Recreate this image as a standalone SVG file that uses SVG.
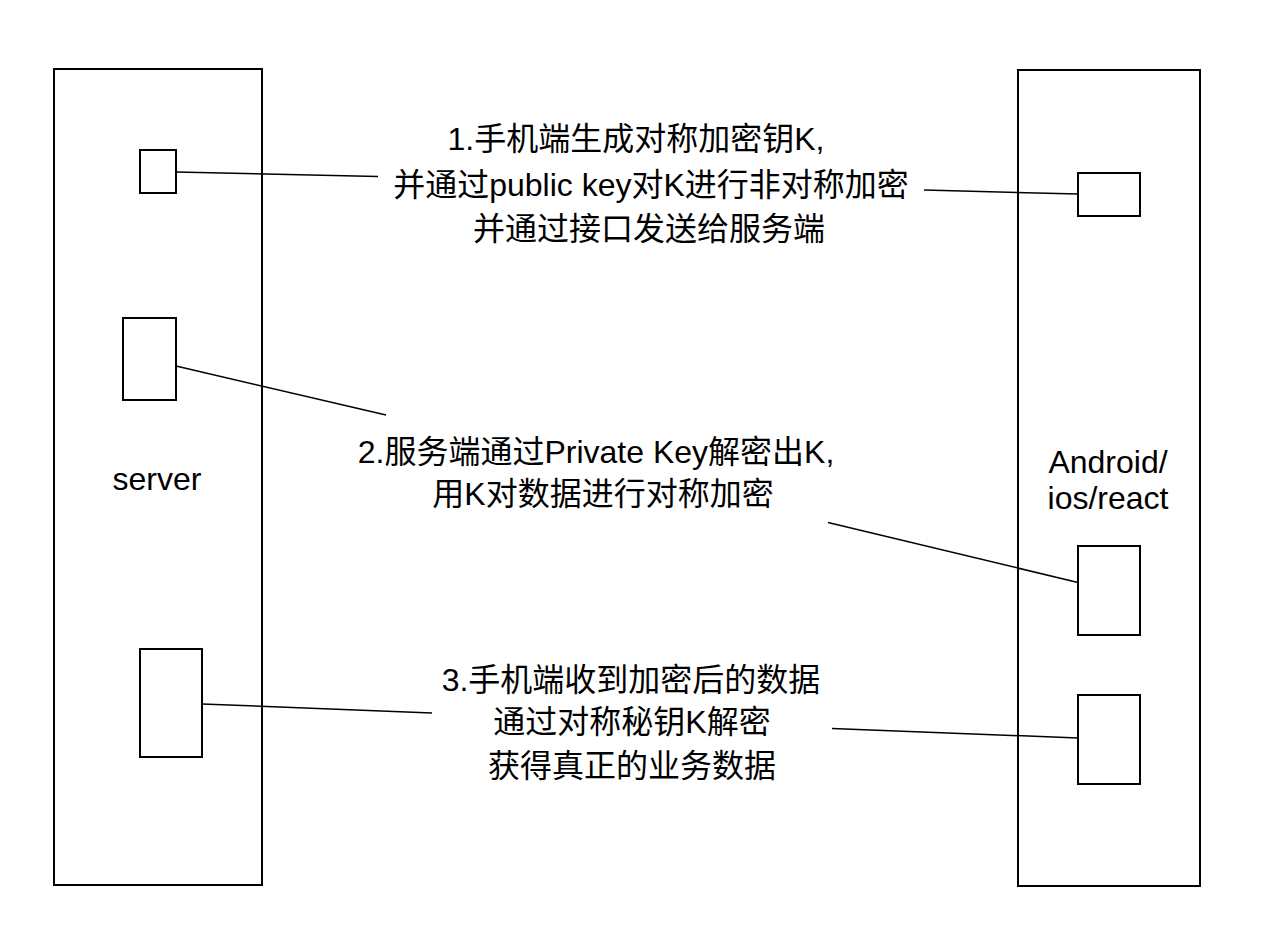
<svg xmlns="http://www.w3.org/2000/svg" width="1268" height="934" viewBox="0 0 1268 934">
<style>
.box{fill:#fff;stroke:#000;stroke-width:2}
.ln{fill:none;stroke:#000;stroke-width:1.5}
.t{font-family:"Liberation Sans","Noto Sans CJK SC",sans-serif;font-size:32px;fill:#000;text-anchor:middle}
</style>
<rect width="1268" height="934" fill="#fff"/>
<g id="server">
<rect class="box" x="54" y="69" width="208" height="816"/>
<text class="t" x="157" y="490">server</text>
</g>
<g id="client">
<rect class="box" x="1018" y="70" width="182" height="816"/>
<text class="t" x="1108" y="473">Android/</text>
<text class="t" x="1108" y="509">ios/react</text>
</g>
<g id="s1"><rect class="box" x="140" y="150" width="36" height="43"/></g>
<g id="s2"><rect class="box" x="123" y="318" width="53" height="82"/></g>
<g id="s3"><rect class="box" x="140" y="649" width="62" height="108"/></g>
<g id="c1"><rect class="box" x="1078" y="173" width="62" height="43"/></g>
<g id="c2"><rect class="box" x="1078" y="546" width="62" height="89"/></g>
<g id="c3"><rect class="box" x="1078" y="695" width="62" height="89"/></g>
<g id="connectors">
<line class="ln" x1="176" y1="172" x2="378" y2="176.5"/>
<line class="ln" x1="924" y1="190" x2="1078" y2="194"/>
<line class="ln" x1="176" y1="366" x2="386" y2="415"/>
<line class="ln" x1="828" y1="522.5" x2="1078" y2="582.5"/>
<line class="ln" x1="202" y1="704" x2="432" y2="713"/>
<line class="ln" x1="832" y1="728.5" x2="1078" y2="738"/>
</g>
<g id="label1">
<text class="t" x="636" y="150">1.手机端生成对称加密钥K,</text>
<text class="t" x="651" y="196">并通过public key对K进行非对称加密</text>
<text class="t" x="649" y="240">并通过接口发送给服务端</text>
</g>
<g id="label2">
<text class="t" x="596" y="463">2.服务端通过Private Key解密出K,</text>
<text class="t" x="603" y="505">用K对数据进行对称加密</text>
</g>
<g id="label3">
<text class="t" x="631" y="691">3.手机端收到加密后的数据</text>
<text class="t" x="632" y="733">通过对称秘钥K解密</text>
<text class="t" x="632" y="777">获得真正的业务数据</text>
</g>
</svg>
